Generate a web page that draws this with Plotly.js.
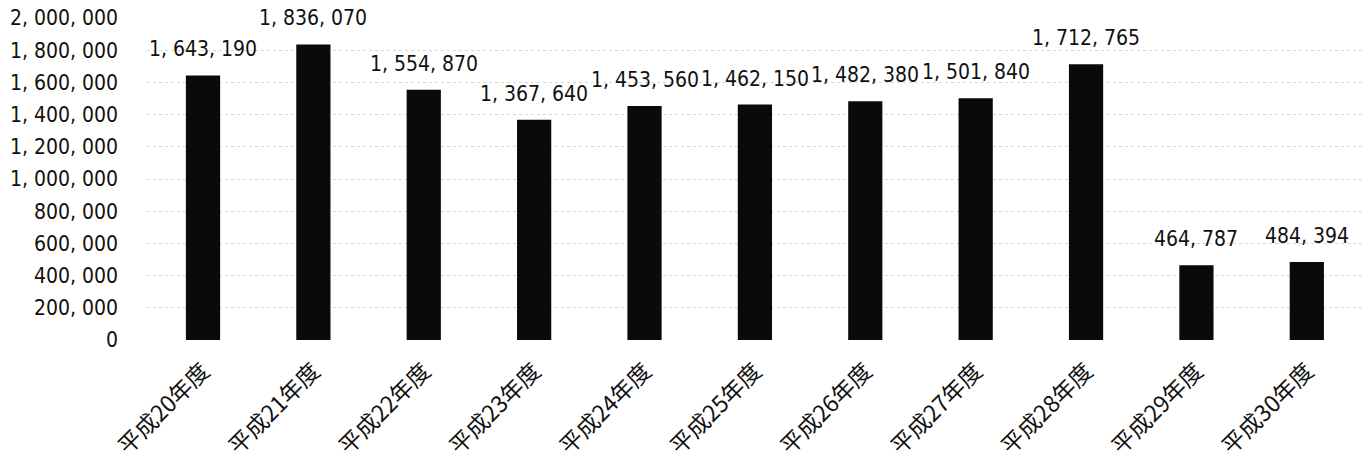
<!DOCTYPE html>
<html>
<head>
<meta charset="utf-8">
<script src="https://cdn.plot.ly/plotly-3.0.1.min.js"></script>
<style>html,body{margin:0;padding:0;background:#fff;}#chart{width:1363px;height:464px;}</style>
</head>
<body>
<div id="chart"></div>
<script>
const categories = ['平成20年度','平成21年度','平成22年度','平成23年度','平成24年度','平成25年度','平成26年度','平成27年度','平成28年度','平成29年度','平成30年度'];
const values = [1643190, 1836070, 1554870, 1367640, 1453560, 1462150, 1482380, 1501840, 1712765, 464787, 484394];
const yTickVals = [0, 200000, 400000, 600000, 800000, 1000000, 1200000, 1400000, 1600000, 1800000, 2000000];

function fmt(v) { return v.toLocaleString('en-US').replace(/,/g, ', '); }

const numFont = {family: '"DejaVu Sans Condensed", "Liberation Sans Narrow", sans-serif', size: 21, color: '#111'};

const trace = {
  type: 'bar',
  x: categories,
  y: values,
  marker: {color: '#0a0a0a', line: {width: 0}},
  hoverinfo: 'skip'
};

const annotations = categories.map((c, i) => ({
  x: c, y: values[i], xref: 'x', yref: 'y',
  text: fmt(values[i]), showarrow: false,
  yanchor: 'bottom', yshift: 12,
  font: numFont
}));

const layout = {
  width: 1363, height: 464,
  margin: {l: 147, r: 1, t: 18, b: 124},
  paper_bgcolor: '#fff', plot_bgcolor: '#fff',
  showlegend: false,
  bargap: 0.69,
  xaxis: {
    type: 'category',
    tickangle: -45,
    tickfont: {family: '"Noto Sans CJK JP", sans-serif', size: 23, color: '#111'},
    showline: false, showgrid: false, zeroline: false,
    ticks: '', ticklabelstandoff: 12
  },
  yaxis: {
    range: [0, 2000000],
    tickvals: yTickVals,
    ticktext: yTickVals.map(fmt),
    tickfont: numFont,
    showgrid: true, gridcolor: '#d8d8d8', griddash: 'dot', gridwidth: 1,
    zeroline: false, showline: false, ticks: '',
    ticklabelstandoff: 28
  },
  annotations: annotations
};

Plotly.newPlot('chart', [trace], layout, {staticPlot: true, displayModeBar: false});
</script>
</body>
</html>
